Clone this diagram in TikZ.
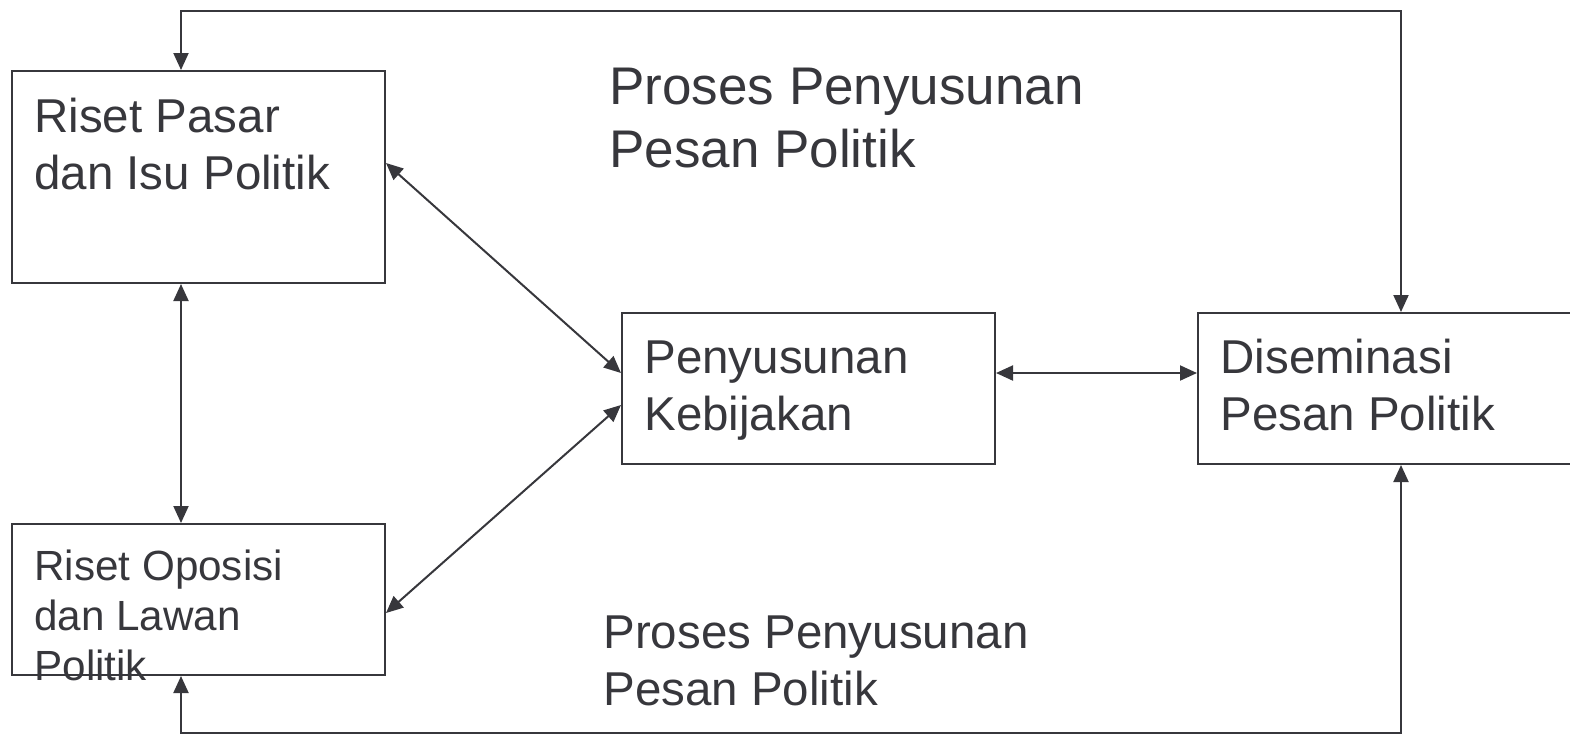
\documentclass[tikz,border=0pt]{standalone}
\usepackage{fontspec}
\setmainfont{Liberation Sans}
\usepackage{tikz}
\usetikzlibrary{positioning, calc, arrows.meta}
\definecolor{Garis}{RGB}{55,55,60}

\begin{document}
\begin{tikzpicture}[
    x=0.5pt, y=-0.5pt,
    box/.style={
        rectangle, draw=Garis, line width=1pt,
        fill=white, inner sep=0pt},
    txt/.style={anchor=base west, inner sep=0pt, align=left, text=Garis,
        font=\fontsize{23.75}{28.5}\selectfont},
    arr/.style={{Triangle[length=8.5pt, width=7.5pt]}-{Triangle[length=8.5pt, width=7.5pt]},
        line width=1pt, color=Garis}]
  \useasboundingbox (0,0) rectangle (1570,736);
  % Kotak utama
  \node[box, minimum width=186.5pt, minimum height=106pt]  (pasar) at (198.5,177)   {};
  \node[box, minimum width=186.5pt, minimum height=75.5pt] (oposisi) at (198.5,599.5) {};
  \node[box, minimum width=186.5pt, minimum height=75.5pt] (kebijakan) at (808.5,388.5) {};
  \node[box, minimum width=188pt,   minimum height=75.5pt] (diseminasi) at (1386,388.5) {};
  % Jalur loop atas dan bawah
  \coordinate (kiri)  at (181,0);
  \coordinate (kanan) at (1401,0);
  \coordinate (atas)  at (0,11);
  \coordinate (bawah) at (0,733);
  % Panah
  \draw[arr] (pasar.north -| kiri) |- (atas -| kanan) -- (diseminasi.north -| kanan);
  \draw[arr] (oposisi.south -| kiri) |- (bawah -| kanan) -- (diseminasi.south -| kanan);
  \draw[arr] (pasar.south -| kiri) -- (oposisi.north -| kiri);
  \draw[arr] ([yshift=7pt]pasar.east) -- ([yshift=7.75pt]kebijakan.west);
  \draw[arr] ([yshift=-6.75pt]oposisi.east) -- ([yshift=-8.25pt]kebijakan.west);
  \draw[arr] ([yshift=7.75pt]kebijakan.east) -- ([yshift=7.75pt]diseminasi.west);
  % Teks kotak (base = baris terakhir)
  \node[txt] (pasar-t) at (34,189) {Riset Pasar\\dan Isu Politik};
  \node[txt, font=\fontsize{21.1}{25}\selectfont] (oposisi-t) at (34,680)
    {Riset Oposisi\\dan Lawan\\Politik};
  \node[txt] (kebijakan-t) at (644,430) {Penyusunan\\Kebijakan};
  \node[txt] (diseminasi-t) at (1220,430) {Diseminasi\\Pesan Politik};
  % Label proses
  \node[txt, font=\fontsize{26.5}{31.5}\selectfont] (proses-atas) at (609,167)
    {Proses Penyusunan\\Pesan Politik};
  \node[txt] (proses-bawah) at (603,705) {Proses Penyusunan\\Pesan Politik};
\end{tikzpicture}
\end{document}
